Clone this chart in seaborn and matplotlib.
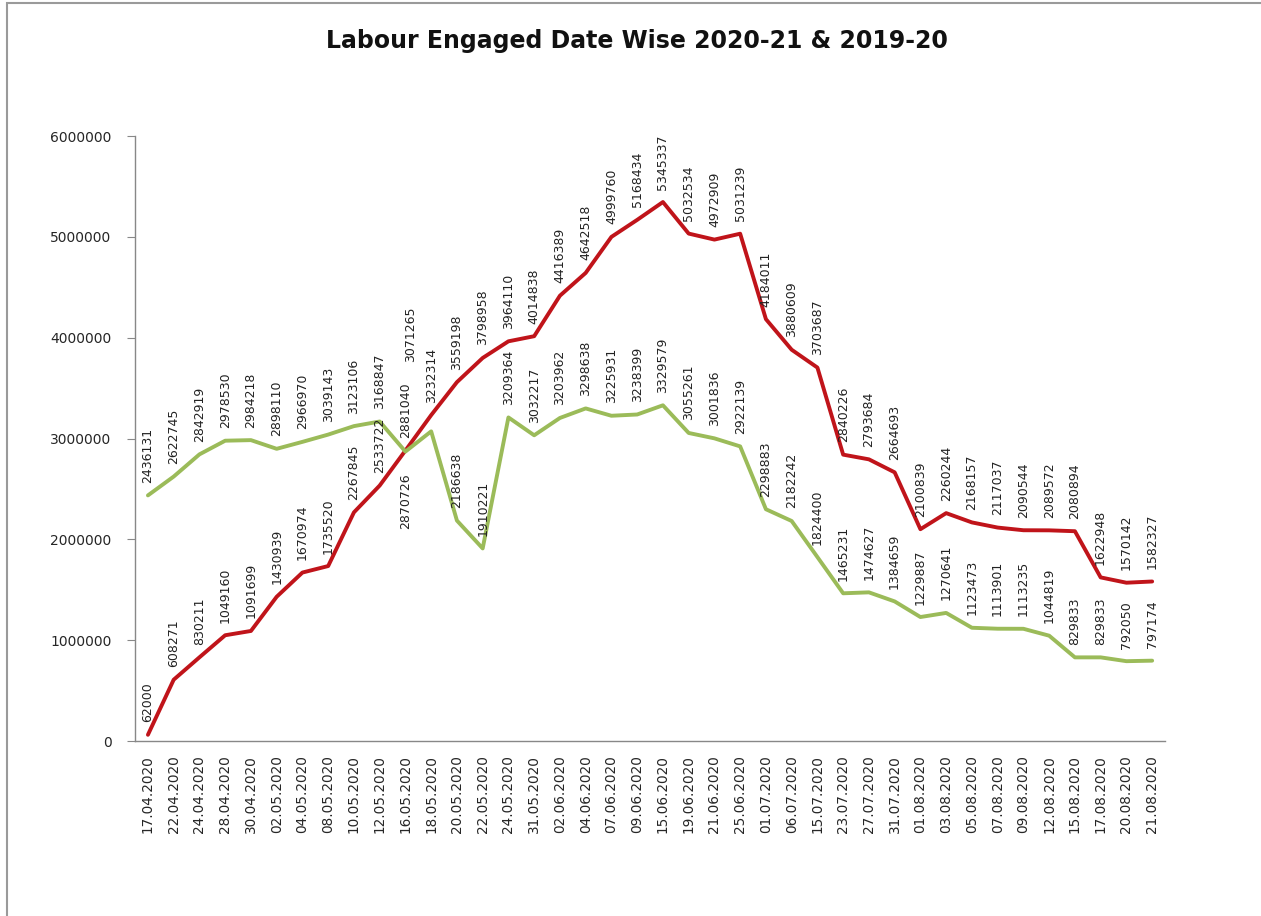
import pandas as pd
import numpy as np
import matplotlib
matplotlib.use('Agg')
import matplotlib.pyplot as plt
import seaborn as sns
from matplotlib.patches import Rectangle

dates = ['17.04.2020', '22.04.2020', '24.04.2020', '28.04.2020', '30.04.2020',
         '02.05.2020', '04.05.2020', '08.05.2020', '10.05.2020', '12.05.2020',
         '16.05.2020', '18.05.2020', '20.05.2020', '22.05.2020', '24.05.2020',
         '31.05.2020', '02.06.2020', '04.06.2020', '07.06.2020', '09.06.2020',
         '15.06.2020', '19.06.2020', '21.06.2020', '25.06.2020', '01.07.2020',
         '06.07.2020', '15.07.2020', '23.07.2020', '27.07.2020', '31.07.2020',
         '01.08.2020', '03.08.2020', '05.08.2020', '07.08.2020', '09.08.2020',
         '12.08.2020', '15.08.2020', '17.08.2020', '20.08.2020', '21.08.2020']

labour_2020_21 = [62000, 608271, 830211, 1049160, 1091699, 1430939, 1670974, 1735520,
                  2267845, 2533722, 2881040, 3232314, 3559198, 3798958, 3964110, 4014838,
                  4416389, 4642518, 4999760, 5168434, 5345337, 5032534, 4972909, 5031239,
                  4184011, 3880609, 3703687, 2840226, 2793684, 2664693, 2100839, 2260244,
                  2168157, 2117037, 2090544, 2089572, 2080894, 1622948, 1570142, 1582327]

labour_2019_20 = [2436131, 2622745, 2842919, 2978530, 2984218, 2898110, 2966970, 3039143,
                  3123106, 3168847, 2870726, 3071265, 2186638, 1910221, 3209364, 3032217,
                  3203962, 3298638, 3225931, 3238399, 3329579, 3055261, 3001836, 2922139,
                  2298883, 2182242, 1824400, 1465231, 1474627, 1384659, 1229887, 1270641,
                  1123473, 1113901, 1113235, 1044819, 829833, 829833, 792050, 797174]

series_names = ['2020-21', '2019-20']
colors = {'2020-21': '#C0141A', '2019-20': '#9BBB59'}

# a few labels were dragged by hand in the original sheet (offsets in points)
label_moves = {('2019-20', 10): (0, -16, 'top'),
               ('2019-20', 11): (-15, 50, 'bottom')}

df = pd.concat([
    pd.DataFrame({'pos': range(len(dates)), 'value': labour_2020_21, 'season': '2020-21'}),
    pd.DataFrame({'pos': range(len(dates)), 'value': labour_2019_20, 'season': '2019-20'}),
])

sns.set_style('white')
plt.rcParams['font.family'] = ['DejaVu Sans']

fig = plt.figure(figsize=(12.61, 9.16), dpi=100)
ax = fig.add_axes([0.1071, 0.191, 0.8168, 0.6605])

sns.lineplot(data=df, x='pos', y='value', hue='season', hue_order=series_names,
             palette=colors, linewidth=2.8, legend=False, ax=ax)

for name in series_names:
    sub = df[df['season'] == name]
    for p, v in zip(sub['pos'], sub['value']):
        dx, dy, va = label_moves.get((name, p), (0, 9, 'bottom'))
        ax.annotate(str(v), (p, v), xytext=(dx, dy), textcoords='offset points',
                    rotation=90, ha='center', va=va, fontsize=9, color='#222222')

ax.set_xlim(-0.5, len(dates) - 0.5)
ax.set_ylim(0, 6000000)
ax.set_yticks(range(0, 6000001, 1000000))
ax.set_yticklabels([str(t) for t in range(0, 6000001, 1000000)], fontsize=10)
ax.set_xticks(range(len(dates)))
ax.set_xticklabels(dates, rotation=90, fontsize=9.8)
ax.set_xticks(np.arange(-0.5, len(dates), 1), minor=True)
ax.tick_params(axis='x', which='major', length=0, pad=10)
ax.tick_params(axis='x', which='minor', length=6, color='#888888', direction='out')
ax.tick_params(axis='y', length=6, color='#888888', direction='out', left=True, pad=11)
ax.set_xlabel('')
ax.set_ylabel('')

for s in ['top', 'right']:
    ax.spines[s].set_visible(False)
for s in ['left', 'bottom']:
    ax.spines[s].set_color('#888888')
    ax.spines[s].set_linewidth(1.0)

fig.text(0.505, 0.955, 'Labour Engaged Date Wise 2020-21 & 2019-20', ha='center', va='center',
         fontsize=17, fontweight='bold', color='#111111')

# chart area border
fig.patches.append(Rectangle((7 / 1261, -0.01), 1.02, 0.01 + 1 - 3 / 916, transform=fig.transFigure,
                             fill=False, edgecolor='#9a9a9a', linewidth=1.5))

fig.savefig('out.png', dpi=100)
